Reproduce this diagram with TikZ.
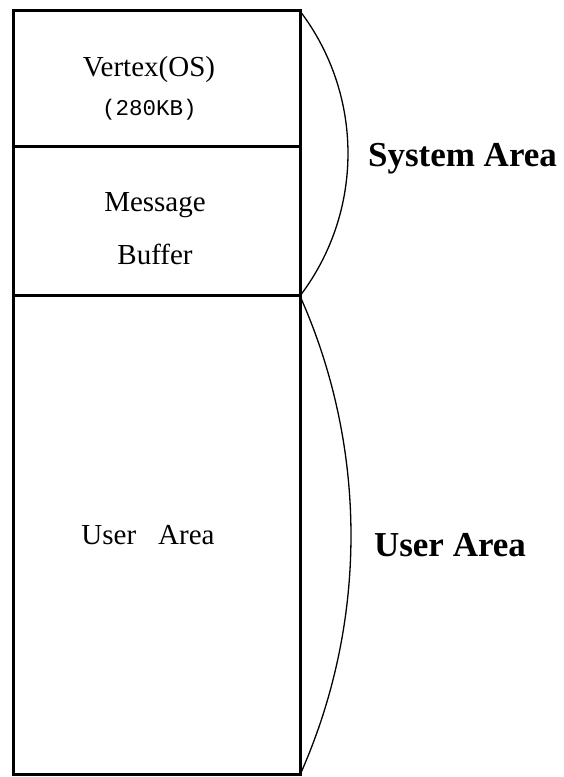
\documentclass[tikz,border=0pt]{standalone}
\usepackage{fontspec}
\setmainfont{Liberation Serif}
\newfontfamily\codefont{Liberation Mono}
\begin{document}
\begin{tikzpicture}[x=1pt,y=1pt,
  frame/.style={line width=3pt,line cap=rect},
  divider/.style={line width=3pt},
  bracearc/.style={line width=1.3pt},
  boxtext/.style={inner sep=0pt,anchor=base,font=\fontsize{29}{34}\selectfont},
  sizetext/.style={inner sep=0pt,anchor=base,font=\codefont\fontsize{22.5}{26}\selectfont},
  arealabel/.style={inner sep=0pt,anchor=base,font=\bfseries\fontsize{35}{40}\selectfont}]
\useasboundingbox (0,0) rectangle (564,777);

% memory column corners and dividers
\coordinate (tl) at (13,766);
\coordinate (tr) at (300,766);
\coordinate (bl) at (13,2);
\coordinate (br) at (300,2);
\coordinate (d1l) at (13,630);
\coordinate (d1r) at (300,630);
\coordinate (d2l) at (13,481);
\coordinate (d2r) at (300,481);

\draw[frame] (tl) rectangle (br);
\draw[divider] (d1l) -- (d1r);
\draw[divider] (d2l) -- (d2r);

% section contents
\node[boxtext] (os) at (149,700) {Vertex(OS)};
\node[sizetext] (size) at (149.5,661) {(280KB)};
\node[boxtext] (msg) at (155,565) {Message};
\node[boxtext] (buf) at (155,512) {Buffer};
\node[boxtext] (user) at (148,232) {User\hspace{22pt}Area};

% braces grouping the sections
\draw[bracearc] (tr) arc[start angle=37.23, end angle=-37.23, radius=235.5];
\draw[bracearc] (d2r) arc[start angle=24.04, end angle=-24.04, radius=587.9];

\node[arealabel] (sys) at (462.5,610) {System Area};
\node[arealabel] (usr) at (450,220) {User Area};
\end{tikzpicture}
\end{document}
